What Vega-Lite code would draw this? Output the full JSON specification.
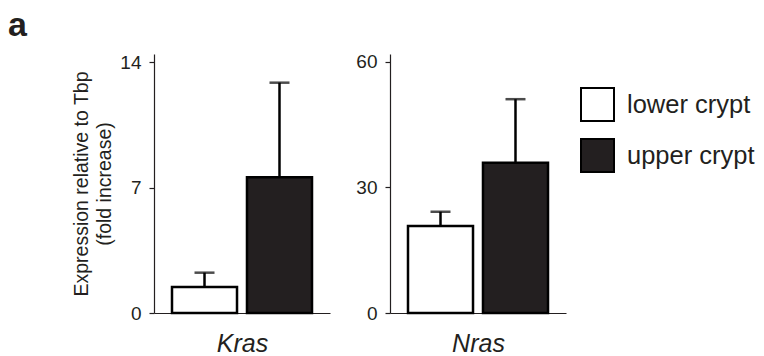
{
  "$schema": "https://vega.github.io/schema/vega-lite/v6.json",
  "padding": {"left": 8, "top": 8, "right": 5, "bottom": 5},
  "background": "white",
  "title": {"text": "a", "anchor": "start", "frame": "group", "fontSize": 34, "fontWeight": "bold", "font": "Liberation Sans", "color": "#231f20", "offset": 10, "dx": -146},
  "data": {"values": [
    {"gene": "Kras", "group": "lower crypt", "value": 1.45, "hi": 2.25},
    {"gene": "Kras", "group": "upper crypt", "value": 7.58, "hi": 12.85},
    {"gene": "Nras", "group": "lower crypt", "value": 20.8, "hi": 24.2},
    {"gene": "Nras", "group": "upper crypt", "value": 35.9, "hi": 51.1}
  ]},
  "spacing": 25,
  "hconcat": [
    {
      "width": 176, "height": 259,
      "transform": [{"filter": "datum.gene === 'Kras'"}],
      "encoding": {
        "x": {"field": "group", "type": "nominal", "sort": ["lower crypt", "upper crypt"],
              "scale": {"paddingInner": 0.133, "paddingOuter": 0.24},
              "axis": {"labels": false, "ticks": false, "title": "Kras", "titleFontStyle": "italic", "titleFontSize": 25, "titleFontWeight": "normal", "titlePadding": 18}}
      },
      "layer": [
        {"mark": {"type": "bar", "stroke": "#000000", "strokeWidth": 2.5},
         "encoding": {
           "y": {"field": "value", "type": "quantitative", "scale": {"domain": [0, 14.45], "nice": false},
                 "axis": {"values": [0, 7, 14], "title": ["Expression relative to Tbp", "(fold increase)"], "titleFontSize": 19.5, "titleFontWeight": "normal", "titleLineHeight": 23, "titlePadding": 5}},
           "fill": {"field": "group", "type": "nominal", "scale": {"domain": ["lower crypt", "upper crypt"], "range": ["#ffffff", "#231f20"]}, "title": null}
         }},
        {"mark": {"type": "rule", "color": "#000000", "strokeWidth": 2.5},
         "encoding": {"y": {"field": "value", "type": "quantitative"}, "y2": {"field": "hi"}}},
        {"mark": {"type": "tick", "color": "#000000", "thickness": 2.5, "size": 20},
         "encoding": {"y": {"field": "hi", "type": "quantitative"}}}
      ]
    },
    {
      "width": 176, "height": 259,
      "transform": [{"filter": "datum.gene === 'Nras'"}],
      "encoding": {
        "x": {"field": "group", "type": "nominal", "sort": ["lower crypt", "upper crypt"],
              "scale": {"paddingInner": 0.133, "paddingOuter": 0.24},
              "axis": {"labels": false, "ticks": false, "title": "Nras", "titleFontStyle": "italic", "titleFontSize": 25, "titleFontWeight": "normal", "titlePadding": 18}}
      },
      "layer": [
        {"mark": {"type": "bar", "stroke": "#000000", "strokeWidth": 2.5},
         "encoding": {
           "y": {"field": "value", "type": "quantitative", "scale": {"domain": [0, 61.9], "nice": false},
                 "axis": {"values": [0, 30, 60], "title": null}},
           "fill": {"field": "group", "type": "nominal", "scale": {"domain": ["lower crypt", "upper crypt"], "range": ["#ffffff", "#231f20"]}, "title": null}
         }},
        {"mark": {"type": "rule", "color": "#000000", "strokeWidth": 2.5},
         "encoding": {"y": {"field": "value", "type": "quantitative"}, "y2": {"field": "hi"}}},
        {"mark": {"type": "tick", "color": "#000000", "thickness": 2.5, "size": 20},
         "encoding": {"y": {"field": "hi", "type": "quantitative"}}}
      ]
    }
  ],
  "resolve": {"scale": {"y": "independent"}},
  "config": {
    "font": "Liberation Sans",
    "view": {"stroke": null},
    "axis": {"grid": false, "domainColor": "#231f20", "domainWidth": 1.2, "tickColor": "#231f20", "tickWidth": 1.2, "tickSize": 5, "labelFontSize": 19, "labelColor": "#231f20", "labelPadding": 8, "titleColor": "#231f20", "labelFont": "Liberation Sans", "titleFont": "Liberation Sans"},
    "legend": {"orient": "none", "legendX": 426, "legendY": 33, "symbolType": "square", "symbolSize": 1089, "symbolStrokeColor": "#000000", "symbolStrokeWidth": 2, "labelFontSize": 25.5, "labelColor": "#231f20", "labelOffset": 12, "rowPadding": 10, "padding": 0, "labelFont": "Liberation Sans"}
  }
}
